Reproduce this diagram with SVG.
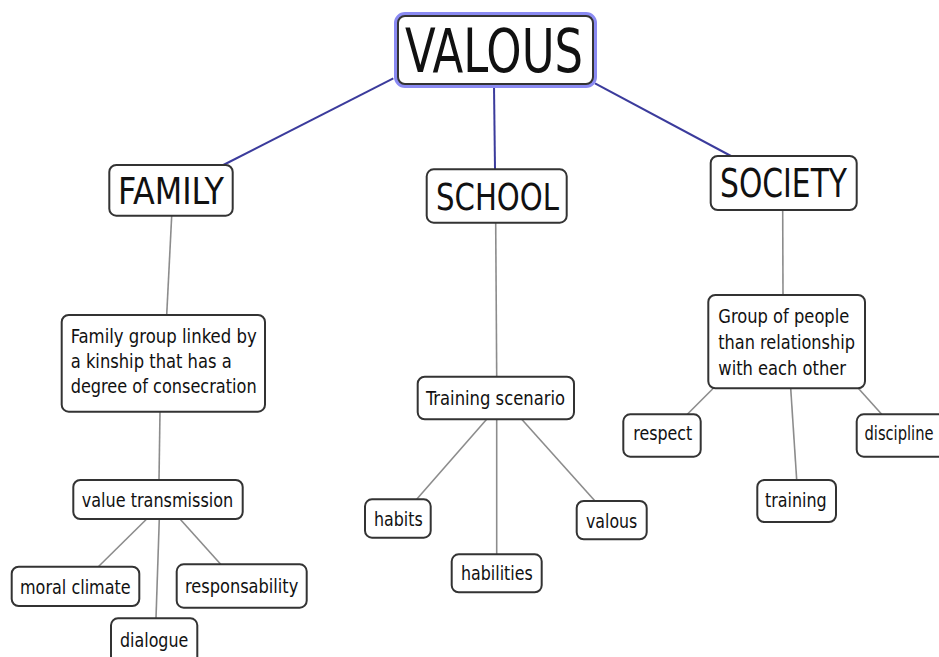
<svg xmlns="http://www.w3.org/2000/svg" width="939" height="657" viewBox="0 0 939 657">
  <style>
    .box { fill: #ffffff; stroke: #333333; stroke-width: 2; }
    .t { font-family: "DejaVu Sans Condensed", "DejaVu Sans", sans-serif; fill: #111111; }
    .s { font-size: 20px; }
    .b { font-size: 37px; }
    .main { stroke: #3b3b9c; stroke-width: 2; fill: none; }
    .sub { stroke: #8c8c8c; stroke-width: 1.6; fill: none; }
  </style>
  <rect width="939" height="657" fill="#ffffff"/>

  <g id="connectors">
    <line class="main" x1="393.3" y1="78.3" x2="223.3" y2="165"/>
    <line class="main" x1="494" y1="86" x2="495" y2="169.3"/>
    <line class="main" x1="595" y1="83.3" x2="731" y2="156"/>
    <line class="sub" x1="171.7" y1="215.7" x2="166.7" y2="315"/>
    <line class="sub" x1="160" y1="411.7" x2="159" y2="480"/>
    <line class="sub" x1="146.7" y1="519" x2="98.3" y2="566.7"/>
    <line class="sub" x1="159.3" y1="519" x2="156" y2="618.3"/>
    <line class="sub" x1="180" y1="519" x2="220.7" y2="564.3"/>
    <line class="sub" x1="495.7" y1="222.7" x2="496.7" y2="376.7"/>
    <line class="sub" x1="486.7" y1="419.3" x2="416.7" y2="499.3"/>
    <line class="sub" x1="496.7" y1="419.3" x2="496.7" y2="554.3"/>
    <line class="sub" x1="521.7" y1="419.3" x2="595" y2="501"/>
    <line class="sub" x1="782.7" y1="210" x2="783" y2="295"/>
    <line class="sub" x1="713.3" y1="388.3" x2="687.3" y2="414.3"/>
    <line class="sub" x1="790.7" y1="388.3" x2="796.7" y2="480"/>
    <line class="sub" x1="858.3" y1="388.3" x2="881.7" y2="414.3"/>
  </g>

  <g id="valous">
    <rect x="396" y="14" width="199" height="72" rx="9" fill="none" stroke="#8a8af2" stroke-width="4"/>
    <rect class="box" x="398" y="16" width="195" height="68" rx="7"/>
    <text class="t" x="405" y="72" font-size="60" textLength="178" lengthAdjust="spacingAndGlyphs">VALOUS</text>
  </g>

  <g id="family">
    <rect class="box" x="109.3" y="165" width="123.4" height="50.7" rx="7"/>
    <text class="t b" x="118" y="204" textLength="106" lengthAdjust="spacingAndGlyphs">FAMILY</text>
  </g>

  <g id="family-group">
    <rect class="box" x="61.7" y="315" width="203.3" height="96.7" rx="7"/>
    <text class="t s" x="70.7" y="343" textLength="186" lengthAdjust="spacingAndGlyphs">Family group linked by</text>
    <text class="t s" x="70.7" y="368" textLength="161" lengthAdjust="spacingAndGlyphs">a kinship that has a</text>
    <text class="t s" x="70.7" y="393" textLength="186" lengthAdjust="spacingAndGlyphs">degree of consecration</text>
  </g>

  <g id="value-transmission">
    <rect class="box" x="73.3" y="480" width="169.4" height="39" rx="7"/>
    <text class="t s" x="81.7" y="507.3" textLength="151.6" lengthAdjust="spacingAndGlyphs">value transmission</text>
  </g>

  <g id="moral-climate">
    <rect class="box" x="11.7" y="566.7" width="127.6" height="39.3" rx="7"/>
    <text class="t s" x="20" y="594" textLength="110.7" lengthAdjust="spacingAndGlyphs">moral climate</text>
  </g>

  <g id="responsability">
    <rect class="box" x="176.7" y="564.3" width="130" height="43.4" rx="7"/>
    <text class="t s" x="185" y="592.5" textLength="113.3" lengthAdjust="spacingAndGlyphs">responsability</text>
  </g>

  <g id="dialogue">
    <rect class="box" x="111" y="618.3" width="86.3" height="50" rx="7"/>
    <text class="t s" x="120" y="646.7" textLength="68.3" lengthAdjust="spacingAndGlyphs">dialogue</text>
  </g>

  <g id="school">
    <rect class="box" x="426.7" y="169.3" width="140" height="53.4" rx="7"/>
    <text class="t b" x="436" y="210" textLength="123" lengthAdjust="spacingAndGlyphs">SCHOOL</text>
  </g>

  <g id="training-scenario">
    <rect class="box" x="417.7" y="376.7" width="156.3" height="42.6" rx="7"/>
    <text class="t s" x="426" y="405" textLength="139" lengthAdjust="spacingAndGlyphs">Training scenario</text>
  </g>

  <g id="habits">
    <rect class="box" x="365" y="499.3" width="65.7" height="38.4" rx="7"/>
    <text class="t s" x="374" y="525.7" textLength="48.7" lengthAdjust="spacingAndGlyphs">habits</text>
  </g>

  <g id="habilities">
    <rect class="box" x="451.7" y="554.3" width="90" height="38" rx="7"/>
    <text class="t s" x="461" y="580" textLength="71.7" lengthAdjust="spacingAndGlyphs">habilities</text>
  </g>

  <g id="valous-leaf">
    <rect class="box" x="576.7" y="501" width="70" height="38.3" rx="7"/>
    <text class="t s" x="586" y="528.3" textLength="51.3" lengthAdjust="spacingAndGlyphs">valous</text>
  </g>

  <g id="society">
    <rect class="box" x="710.7" y="156" width="146" height="54" rx="7"/>
    <text class="t" x="720" y="196.7" font-size="39" textLength="127" lengthAdjust="spacingAndGlyphs">SOCIETY</text>
  </g>

  <g id="group-of-people">
    <rect class="box" x="708.3" y="295" width="156.7" height="93.3" rx="7"/>
    <text class="t s" x="718.3" y="323.3" textLength="131" lengthAdjust="spacingAndGlyphs">Group of people</text>
    <text class="t s" x="718.3" y="349.3" textLength="136.7" lengthAdjust="spacingAndGlyphs">than relationship</text>
    <text class="t s" x="718.3" y="375" textLength="127.7" lengthAdjust="spacingAndGlyphs">with each other</text>
  </g>

  <g id="respect">
    <rect class="box" x="623.3" y="414.3" width="77.4" height="42.4" rx="7"/>
    <text class="t s" x="633.3" y="440" textLength="59" lengthAdjust="spacingAndGlyphs">respect</text>
  </g>

  <g id="training">
    <rect class="box" x="757.3" y="480" width="78.7" height="42" rx="7"/>
    <text class="t s" x="765" y="506.7" textLength="61.7" lengthAdjust="spacingAndGlyphs">training</text>
  </g>

  <g id="discipline">
    <rect class="box" x="856.7" y="414.3" width="100" height="42.4" rx="7"/>
    <text class="t s" x="864.5" y="440" textLength="69" lengthAdjust="spacingAndGlyphs">discipline</text>
  </g>
</svg>
